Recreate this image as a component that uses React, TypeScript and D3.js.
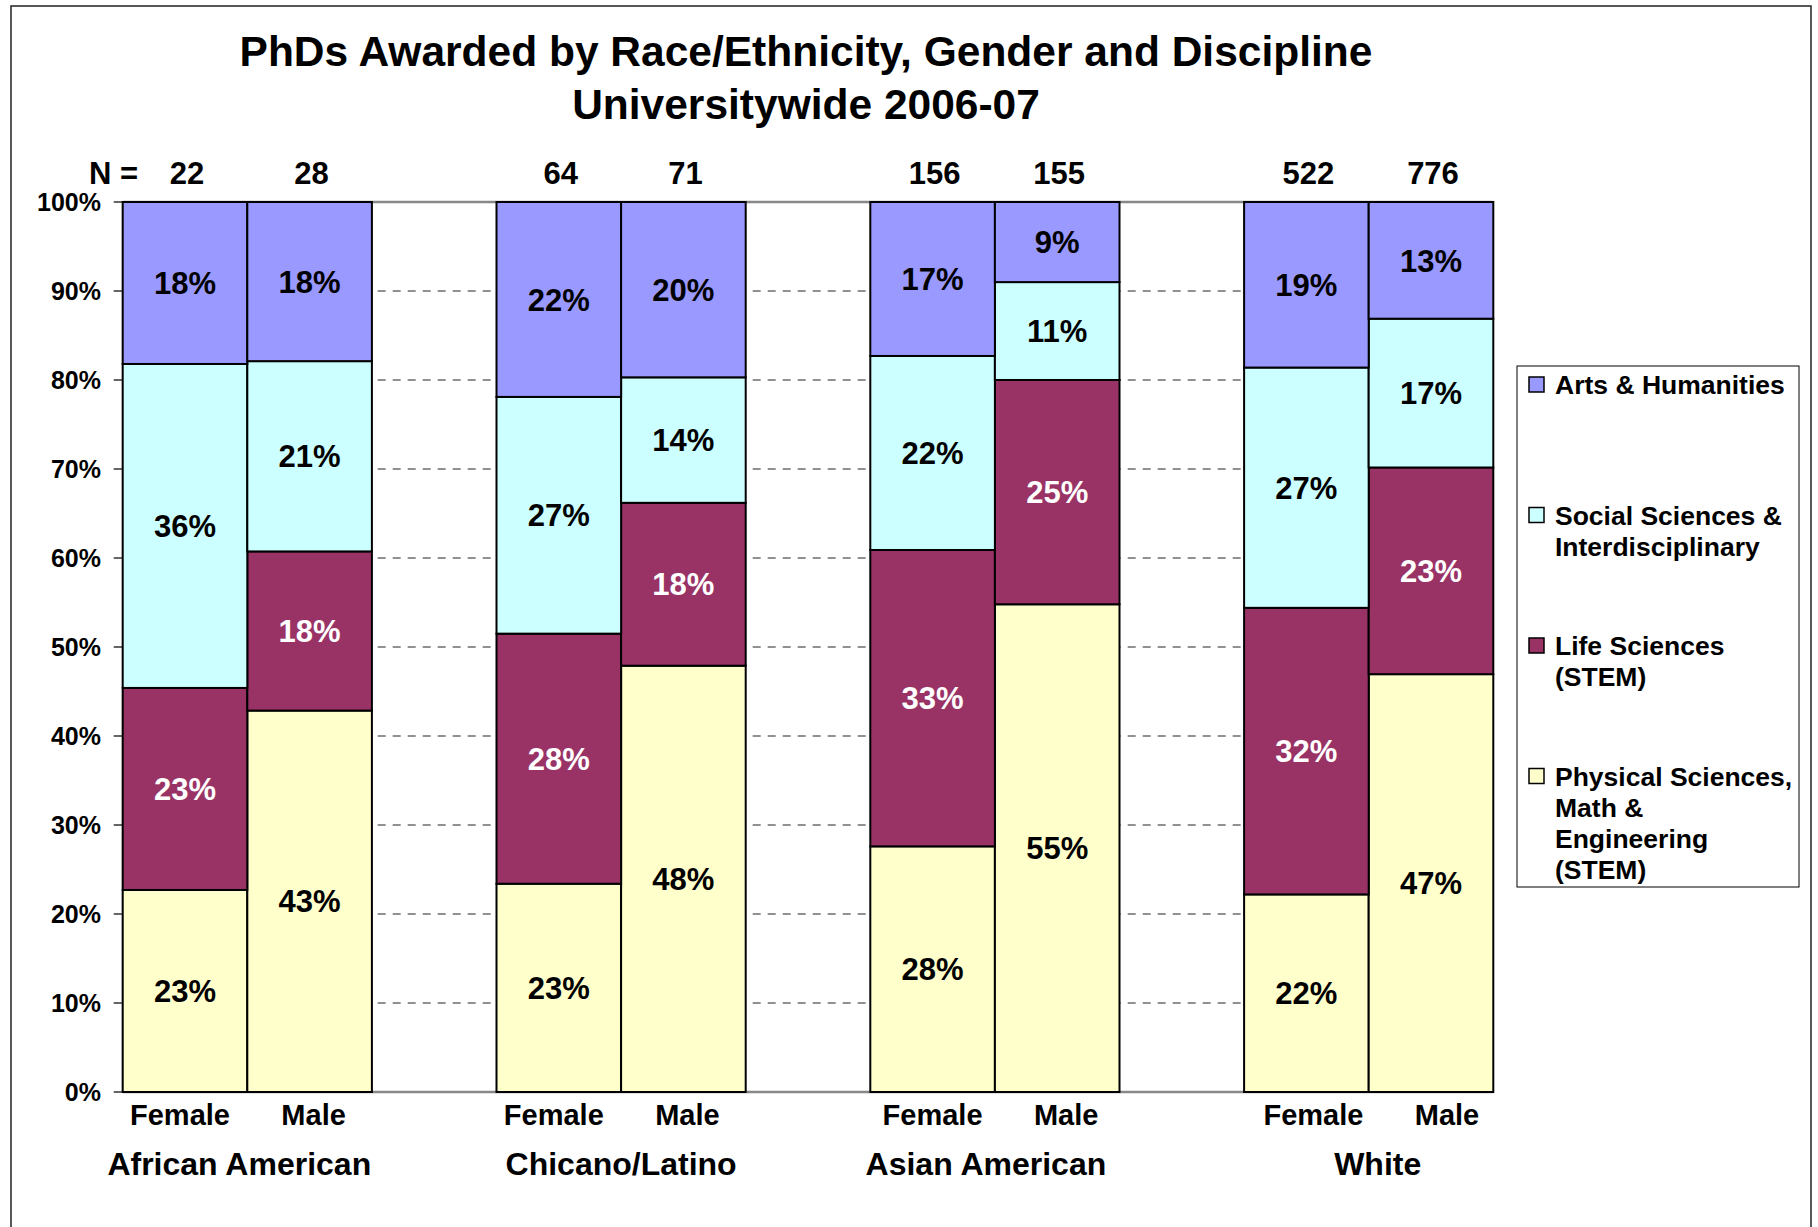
import * as d3 from 'd3';

// bar order: group x gender
const groups = ['African American', 'Chicano/Latino', 'Asian American', 'White'];
const genders = ['Female', 'Male'];
const nCounts = [22, 28, 64, 71, 156, 155, 522, 776];

// shares in percent (bottom to top)
const physical = [22.7, 42.9, 23.4, 47.9, 27.6, 54.8, 22.2, 46.9];
const life = [22.7, 17.9, 28.1, 18.3, 33.3, 25.2, 32.2, 23.2];
const social = [36.4, 21.4, 26.6, 14.1, 21.8, 11.0, 27.0, 16.7];
const arts = [18.2, 17.9, 21.9, 19.7, 17.3, 9.0, 18.6, 13.1];

const seriesKeys = ['physical', 'life', 'social', 'arts'];
const seriesColors = ['#FFFFCC', '#993366', '#CCFFFF', '#9999FF'];
const labelColors = ['#000', '#fff', '#000', '#000'];
const legendLabels = [
  ['Arts & Humanities'],
  ['Social Sciences &', 'Interdisciplinary'],
  ['Life Sciences', '(STEM)'],
  ['Physical Sciences,', 'Math &', 'Engineering', '(STEM)'],
];

const W = 1818, H = 1227;
const FONT = '"Liberation Sans", Arial, Helvetica, sans-serif';
// Excel places the category captions a bit off-centre
const groupNudge = [-8, 0, -9, 9];
const genderNudge = [0, 0, 5, 12];

export default function App() {
  // slots: F, M, spacer, F, M, spacer ... (Excel-style gap-less columns)
  const slots: string[] = [];
  groups.forEach((g, gi) => {
    genders.forEach(s => slots.push(`${g}|${s}`));
    if (gi < groups.length - 1) slots.push(`gap${gi}`);
  });

  const rows = groups.flatMap((g, gi) => genders.map((s, si) => {
    const i = gi * genders.length + si;
    return { key: `${g}|${s}`, gi, group: g, gender: s, n: nCounts[i],
      physical: physical[i], life: life[i], social: social[i], arts: arts[i] };
  }));

  const stacked = d3.stack<any>().keys(seriesKeys).offset(d3.stackOffsetExpand)(rows);

  const x = d3.scaleBand().domain(slots).range([122.7, 1493.3]).padding(0);
  const y = d3.scaleLinear().domain([0, 1]).range([1092, 202]);
  const x0 = x.range()[0], x1 = x.range()[1];
  const ticks = y.ticks(10);
  const fmt = d3.format('.0%');
  const bw = x.bandwidth();

  return (
    <svg width={W} height={H} style={{ position: 'absolute', left: 0, top: 0 }}
      fontFamily={FONT} fontWeight="bold">
      <rect x={0} y={0} width={W} height={H} fill="#fff" />
      <rect x={11} y={6} width={1800} height={1260} fill="none" stroke="#222" strokeWidth={1.5} />

      <text x={806} y={66} textAnchor="middle" fontSize={42.5}>
        PhDs Awarded by Race/Ethnicity, Gender and Discipline
      </text>
      <text x={806} y={119} textAnchor="middle" fontSize={42.5}>Universitywide 2006-07</text>

      {/* gridlines */}
      {ticks.map(t => (
        <line key={t} x1={x0} x2={x1} y1={y(t)} y2={y(t)}
          stroke={t === 0 || t === 1 ? '#888' : '#222'}
          strokeWidth={t === 0 || t === 1 ? 2.5 : 1}
          strokeDasharray={t === 0 || t === 1 ? undefined : '8,7'} />
      ))}

      {/* y axis */}
      <line x1={x0} x2={x0} y1={y(0)} y2={y(1)} stroke="#000" strokeWidth={1.5} />
      {ticks.map(t => (
        <g key={t}>
          <line x1={x0 - 9} x2={x0} y1={y(t)} y2={y(t)} stroke="#333" strokeWidth={1.5} />
          <text x={101} y={y(t)} dy="0.36em" textAnchor="end" fontSize={25}>{fmt(t)}</text>
        </g>
      ))}

      {/* bars */}
      {stacked.map((layer, li) => (
        <g key={layer.key}>
          {layer.map((d: any) => (
            <rect key={d.data.key} x={x(d.data.key)} y={y(d[1])} width={bw}
              height={y(d[0]) - y(d[1])} fill={seriesColors[li]} stroke="#000" strokeWidth={2} />
          ))}
        </g>
      ))}

      {/* segment labels */}
      {stacked.map((layer, li) => (
        <g key={layer.key}>
          {layer.map((d: any) => (
            <text key={d.data.key} x={(x(d.data.key) as number) + bw / 2} y={y((d[0] + d[1]) / 2)}
              dy="0.36em" textAnchor="middle" fontSize={31} fill={labelColors[li]}>
              {d3.format('.0f')(d.data[layer.key])}%
            </text>
          ))}
        </g>
      ))}

      {/* N row */}
      <text x={89} y={184} fontSize={31}>N =</text>
      {rows.map(r => (
        <text key={r.key} x={(x(r.key) as number) + bw / 2 + 2} y={184} textAnchor="middle" fontSize={31}>
          {r.n}
        </text>
      ))}

      {/* category labels */}
      {rows.map(r => (
        <text key={r.key}
          x={(x(r.key) as number) + bw / 2 + (r.gender === 'Female' ? -5 : 4) + genderNudge[r.gi]}
          y={1125} textAnchor="middle" fontSize={29}>
          {r.gender}
        </text>
      ))}
      {groups.map((g, gi) => (
        <text key={g} x={(x(`${g}|${genders[1]}`) as number) + groupNudge[gi]} y={1175}
          textAnchor="middle" fontSize={32}>
          {g}
        </text>
      ))}

      {/* legend */}
      <rect x={1517} y={366} width={282} height={521} fill="#fff" stroke="#000" strokeWidth={1} />
      {legendLabels.map((lines, i) => {
        const by = 394 + i * 130.5;
        return (
          <g key={i}>
            <rect x={1529} y={by - 17} width={15} height={15}
              fill={seriesColors[seriesColors.length - 1 - i]} stroke="#000" strokeWidth={1.5} />
            {lines.map((ln, j) => (
              <text key={j} x={1555} y={by + j * 31} fontSize={26.5}>{ln}</text>
            ))}
          </g>
        );
      })}
    </svg>
  );
}
